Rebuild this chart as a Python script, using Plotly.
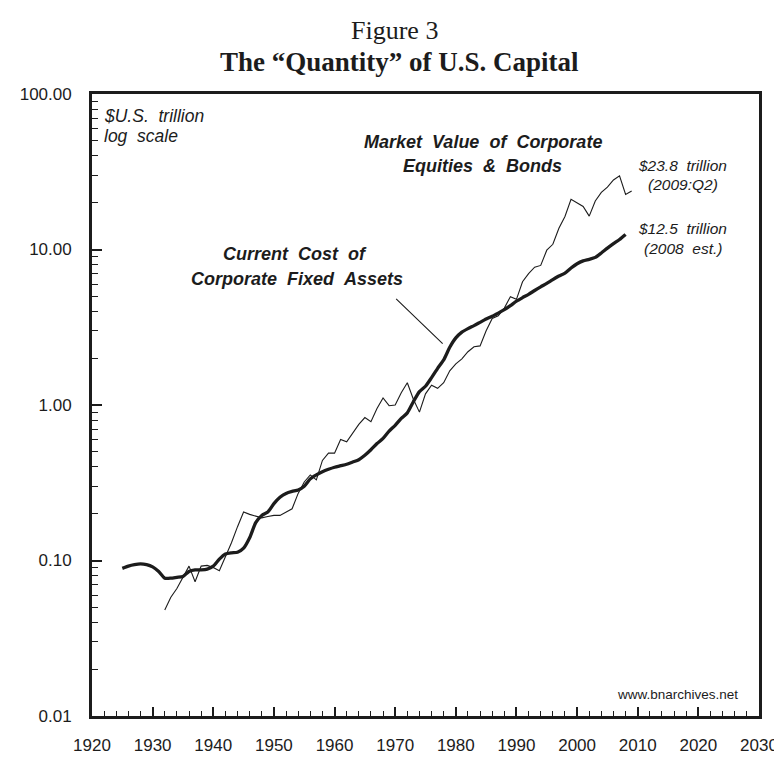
import plotly.graph_objects as go

# ---- data (US$ trillion) ----
cost_years = list(range(1925, 2009))
cost_values = [
    0.089, 0.092, 0.094, 0.095, 0.094, 0.091, 0.085, 0.077, 0.077, 0.078,  # 1925-1934
    0.079, 0.085, 0.087, 0.087, 0.088, 0.092, 0.102, 0.110, 0.112, 0.113,  # 1935-1944
    0.120, 0.140, 0.175, 0.195, 0.205, 0.232, 0.255, 0.270, 0.278, 0.284,  # 1945-1954
    0.300, 0.335, 0.355, 0.372, 0.386, 0.398, 0.407, 0.416, 0.430, 0.445,  # 1955-1964
    0.475, 0.515, 0.565, 0.610, 0.680, 0.740, 0.820, 0.890, 1.050, 1.220,  # 1965-1974
    1.320, 1.500, 1.720, 1.950, 2.350, 2.700, 2.940, 3.100, 3.240, 3.400,  # 1975-1984
    3.570, 3.720, 3.900, 4.100, 4.350, 4.650, 4.900, 5.150, 5.450, 5.750,  # 1985-1994
    6.050, 6.400, 6.750, 7.050, 7.600, 8.100, 8.450, 8.650, 8.900, 9.500,  # 1995-2004
    10.20, 10.90, 11.60, 12.50,                                            # 2005-2008
]

market_years = list(range(1932, 2010))
market_values = [
    0.048, 0.058, 0.066, 0.078, 0.092, 0.073, 0.092, 0.093,                # 1932-1939
    0.090, 0.086, 0.105, 0.130, 0.165, 0.205, 0.198, 0.192, 0.188, 0.192,  # 1940-1949
    0.195, 0.195, 0.205, 0.215, 0.270, 0.320, 0.355, 0.330, 0.440, 0.490,  # 1950-1959
    0.490, 0.600, 0.580, 0.660, 0.750, 0.830, 0.780, 0.950, 1.110, 0.990,  # 1960-1969
    1.000, 1.200, 1.390, 1.090, 0.900, 1.180, 1.340, 1.280, 1.390, 1.660,  # 1970-1979
    1.840, 1.980, 2.200, 2.370, 2.400, 3.000, 3.600, 3.750, 4.200, 4.970,  # 1980-1989
    4.780, 6.200, 7.000, 7.700, 7.900, 9.900, 10.80, 13.70, 16.30, 21.00,  # 1990-1999
    20.00, 18.90, 16.40, 20.50, 23.30, 25.20, 28.00, 29.80, 22.60, 23.80,  # 2000-2009
]

y_tick_vals = [0.01, 0.1, 1, 10, 100]
y_tick_text = ["0.01", "0.10", "1.00", "10.00", "100.00"]
x_tick_vals = list(range(1920, 2031, 10))

# ---- layout geometry ----
W, H = 782, 759
L, R, T, B = 83, 764, 86, 719
X0, X1 = 1920, 2030
LOG0, LOG1 = -2, 2


def px_x(px):
    return X0 + (px - L) / (R - L) * (X1 - X0)


def px_y(py):
    return LOG0 + (B - py) / (B - T) * (LOG1 - LOG0)


INK = "#1c1c1c"
SANS = "Liberation Sans, Arial, Helvetica, sans-serif"
SERIF = "Liberation Serif, Times New Roman, serif"
SP = "\u00a0"

fig = go.Figure()
fig.add_trace(go.Scatter(
    x=market_years, y=market_values, mode="lines",
    line=dict(color=INK, width=1.1), name="Market Value of Corporate Equities & Bonds",
    hoverinfo="x+y",
))
fig.add_trace(go.Scatter(
    x=cost_years, y=cost_values, mode="lines",
    line=dict(color=INK, width=3.3, shape="spline", smoothing=0.6),
    name="Current Cost of Corporate Fixed Assets", hoverinfo="x+y",
))

minor_y = [m * 10 ** e for e in range(-2, 2) for m in range(2, 10)]

fig.update_layout(
    width=W, height=H,
    margin=dict(l=L, r=W - R, t=T, b=H - B, pad=0),
    paper_bgcolor="white", plot_bgcolor="white",
    showlegend=False,
    font=dict(family=SANS, color=INK),
    xaxis=dict(
        range=[X0, X1], tickmode="array", tickvals=x_tick_vals,
        ticks="inside", ticklen=9, tickwidth=1.6, tickcolor=INK,
        minor=dict(ticks="inside", ticklen=5, tickwidth=1.3, tickcolor=INK, dtick=2, showgrid=False),
        showline=True, linecolor=INK, linewidth=2.8, mirror=True,
        showgrid=False, zeroline=False,
        tickfont=dict(size=17, family=SANS, color=INK),
        ticklabelstandoff=12, ticklabeloverflow="allow",
    ),
    yaxis=dict(
        type="log", range=[LOG0, LOG1], tickmode="array",
        tickvals=y_tick_vals, ticktext=y_tick_text,
        ticks="inside", ticklen=10, tickwidth=1.6, tickcolor=INK,
        minor=dict(ticks="inside", ticklen=6, tickwidth=1.3, tickcolor=INK,
                   tickmode="array", tickvals=minor_y, showgrid=False),
        showline=True, linecolor=INK, linewidth=2.8, mirror=True,
        showgrid=False, zeroline=False,
        tickfont=dict(size=17, family=SANS, color=INK),
        ticklabelstandoff=14, ticklabeloverflow="allow",
    ),
)


def note(text, px, py, size=16, anchor="center", weight="normal", style="normal", family=SANS):
    fig.add_annotation(
        x=px_x(px), y=px_y(py), xref="x", yref="y", text=text, showarrow=False,
        xanchor=anchor, yanchor="middle",
        font=dict(size=size, family=family, color=INK, weight=weight, style=style),
    )


def top_note(text, px, py, size, weight="normal"):
    fig.add_annotation(
        x=(px - L) / (R - L), y=1 + (T - py) / (B - T), xref="paper", yref="paper",
        text=text, showarrow=False, xanchor="center", yanchor="middle",
        font=dict(size=size, family=SERIF, color=INK, weight=weight),
    )


def spaced(s, n=2):
    return (SP * n).join(s.split(" "))


top_note("Figure 3", 392, 21, 26)
top_note("The \u201cQuantity\u201d of U.S. Capital", 397, 53, 27, weight="bold")

note(spaced("$U.S. trillion"), 93, 108, size=17.5, anchor="left", style="italic")
note(spaced("log scale"), 93, 129, size=17.5, anchor="left", style="italic")

note(spaced("Market Value of Corporate"), 482, 135, size=18, weight="bold", style="italic")
note(spaced("Equities & Bonds"), 482, 159, size=18, weight="bold", style="italic")

note(spaced("Current Cost of"), 290, 249, size=18, weight="bold", style="italic")
note(spaced("Corporate Fixed Assets"), 292, 274, size=18, weight="bold", style="italic")

note(spaced("$23.8 trillion"), 686, 159, size=15.5, style="italic")
note("(2009:Q2)", 686, 178, size=15.5, style="italic")
note(spaced("$12.5 trillion"), 686, 223, size=15.5, style="italic")
note(spaced("(2008 est.)"), 686, 243, size=15.5, style="italic")

note("www.bnarchives.net", 745, 697, size=13.5, anchor="right")

# leader line for the fixed-assets label
fig.add_annotation(
    x=px_x(441), y=px_y(340), ax=px_x(392), ay=px_y(293),
    xref="x", yref="y", axref="x", ayref="y",
    text="", showarrow=True, arrowhead=0, arrowwidth=1.1, arrowcolor=INK, standoff=0,
)

fig.write_html("out.html")
